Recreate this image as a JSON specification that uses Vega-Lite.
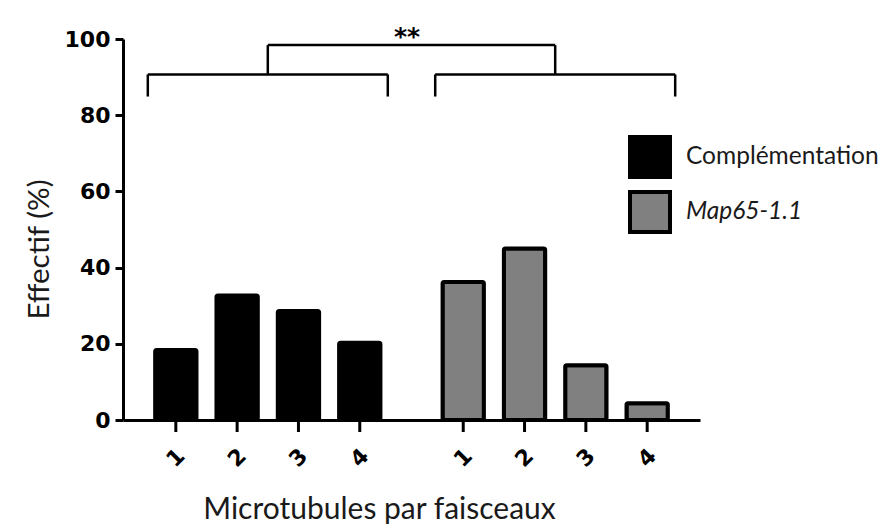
{
  "$schema": "https://vega.github.io/schema/vega-lite/v6.json",
  "width": 577,
  "height": 381,
  "autosize": {"type": "none"},
  "padding": {"left": 123, "top": 39, "right": 185, "bottom": 108},
  "background": "white",
  "config": {"view": {"stroke": null}},
  "datasets": {
    "bars": [
      {"groupe": "Complémentation", "n": "1", "effectif": 18.4},
      {"groupe": "Complémentation", "n": "2", "effectif": 32.7},
      {"groupe": "Complémentation", "n": "3", "effectif": 28.6},
      {"groupe": "Complémentation", "n": "4", "effectif": 20.3},
      {"groupe": "Map65-1.1", "n": "1", "effectif": 36.2},
      {"groupe": "Map65-1.1", "n": "2", "effectif": 45.0},
      {"groupe": "Map65-1.1", "n": "3", "effectif": 14.4},
      {"groupe": "Map65-1.1", "n": "4", "effectif": 4.4}
    ],
    "groups": [
      {"groupe": "Complémentation"},
      {"groupe": "Map65-1.1"}
    ],
    "pair": [
      {"g1": "Complémentation", "g2": "Map65-1.1", "label": "**"}
    ]
  },
  "layer": [
    {
      "data": {"name": "bars"},
      "mark": {"type": "bar", "stroke": "black", "strokeWidth": 4, "cornerRadius": 1.5},
      "encoding": {
        "x": {
          "field": "groupe", "type": "nominal",
          "scale": {"domain": ["Complémentation", "Map65-1.1"], "paddingInner": 0.165, "paddingOuter": 0.0863},
          "axis": {
            "title": "Microtubules par faisceaux",
            "labels": false, "ticks": false,
            "domain": true, "domainColor": "black", "domainWidth": 3,
            "titleFont": "Lato", "titleFontSize": 30, "titleFontWeight": "normal", "titleColor": "#1a1a1a",
            "titlePadding": 74, "titleX": 256, "titleAnchor": null
          }
        },
        "xOffset": {
          "field": "n", "type": "nominal",
          "scale": {"paddingInner": 0.326, "paddingOuter": 0.12}
        },
        "y": {
          "field": "effectif", "type": "quantitative",
          "scale": {"domain": [0, 100], "nice": false},
          "axis": {
            "title": "Effectif (%)",
            "values": [0, 20, 40, 60, 80, 100],
            "grid": false,
            "domain": true, "domainColor": "black", "domainWidth": 3,
            "ticks": true, "tickColor": "black", "tickWidth": 3, "tickSize": 8,
            "labelFont": "DejaVu Sans", "labelFontSize": 22, "labelFontWeight": "bold", "labelColor": "black", "labelPadding": 5,
            "titleFont": "Lato", "titleFontSize": 29.5, "titleFontWeight": "normal", "titleColor": "#1a1a1a", "titlePadding": 10,
            "titleY": 210
          }
        },
        "fill": {
          "field": "groupe", "type": "nominal",
          "scale": {"domain": ["Complémentation", "Map65-1.1"], "range": ["black", "#808080"]},
          "legend": {
            "orient": "none", "legendX": 505, "legendY": 96, "title": null, "padding": 0,
            "symbolType": "square", "symbolSize": 1600, "symbolStrokeColor": "black", "symbolStrokeWidth": 4, "symbolOpacity": 1,
            "labelFont": "Lato", "labelFontSize": 24.5, "labelColor": "#1a1a1a", "labelOffset": 14, "labelLimit": 400, "rowPadding": -1,
            "encode": {"labels": {"update": {"fontStyle": {"signal": "datum.label === 'Map65-1.1' ? 'italic' : 'normal'"}}}}
          }
        }
      }
    },
    {
      "data": {"name": "bars"},
      "mark": {"type": "rule", "color": "black", "strokeWidth": 3, "y2Offset": 12},
      "encoding": {
        "x": {"field": "groupe", "type": "nominal"},
        "xOffset": {"field": "n", "type": "nominal"},
        "y": {"datum": 0, "type": "quantitative"},
        "y2": {"datum": 0}
      }
    },
    {
      "data": {"name": "bars"},
      "mark": {"type": "text", "font": "DejaVu Sans", "fontWeight": "bold", "fontSize": 22, "angle": 315, "yOffset": 38, "align": "center", "baseline": "middle", "color": "black"},
      "encoding": {
        "x": {"field": "groupe", "type": "nominal"},
        "xOffset": {"field": "n", "type": "nominal"},
        "y": {"datum": 0, "type": "quantitative"},
        "text": {"field": "n"}
      }
    },
    {
      "data": {"name": "groups"},
      "mark": {"type": "rule", "color": "black", "strokeWidth": 2.5},
      "encoding": {
        "x": {"field": "groupe", "type": "nominal", "bandPosition": 0},
        "x2": {"field": "groupe", "bandPosition": 1},
        "y": {"datum": 90.7, "type": "quantitative"}
      }
    },
    {
      "data": {"name": "groups"},
      "mark": {"type": "rule", "color": "black", "strokeWidth": 2.5},
      "encoding": {
        "x": {"field": "groupe", "type": "nominal", "bandPosition": 0},
        "y": {"datum": 84.9, "type": "quantitative"},
        "y2": {"datum": 90.7}
      }
    },
    {
      "data": {"name": "groups"},
      "mark": {"type": "rule", "color": "black", "strokeWidth": 2.5},
      "encoding": {
        "x": {"field": "groupe", "type": "nominal", "bandPosition": 1},
        "y": {"datum": 84.9, "type": "quantitative"},
        "y2": {"datum": 90.7}
      }
    },
    {
      "data": {"name": "groups"},
      "mark": {"type": "rule", "color": "black", "strokeWidth": 2.5},
      "encoding": {
        "x": {"field": "groupe", "type": "nominal", "bandPosition": 0.5},
        "y": {"datum": 90.7, "type": "quantitative"},
        "y2": {"datum": 98.4}
      }
    },
    {
      "data": {"name": "pair"},
      "mark": {"type": "rule", "color": "black", "strokeWidth": 2.5},
      "encoding": {
        "x": {"field": "g1", "type": "nominal", "bandPosition": 0.5},
        "x2": {"field": "g2", "bandPosition": 0.5},
        "y": {"datum": 98.4, "type": "quantitative"}
      }
    },
    {
      "data": {"name": "pair"},
      "mark": {"type": "text", "font": "DejaVu Sans", "fontSize": 25, "fontWeight": "bold", "align": "center", "baseline": "middle", "color": "black"},
      "encoding": {
        "x": {"field": "g1", "type": "nominal", "bandPosition": 1.08},
        "y": {"datum": 100.6, "type": "quantitative"},
        "text": {"field": "label"}
      }
    }
  ]
}
